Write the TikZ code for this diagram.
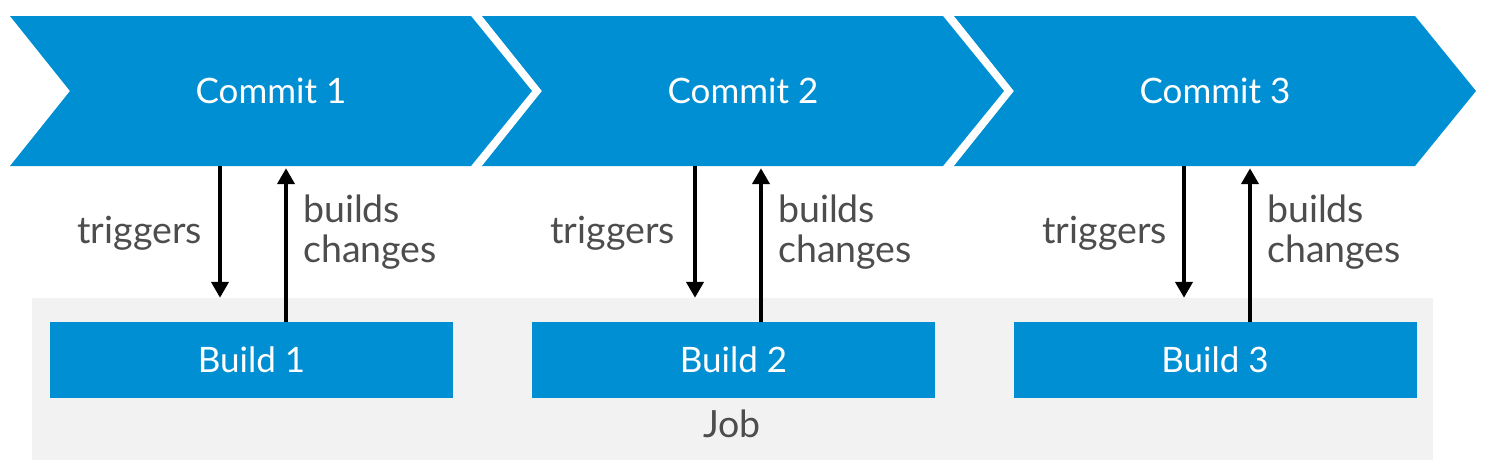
\documentclass[tikz,border=0pt]{standalone}
\usepackage{fontspec}
\setmainfont{Lato}
\usetikzlibrary{arrows.meta}
\definecolor{sapblue}{RGB}{0,143,211}
\definecolor{jobgray}{RGB}{242,242,242}
\definecolor{labelgray}{RGB}{77,77,77}
\begin{document}
\begin{tikzpicture}[x=1pt,y=-1pt,
  chevfill/.style={fill=sapblue},
  chevtext/.style={text=white,font=\fontsize{35}{40}\selectfont,minimum width=522pt,minimum height=150pt,inner sep=0pt},
  buildbox/.style={fill=sapblue,text=white,font=\fontsize{35}{40}\selectfont,minimum width=403pt,minimum height=76pt,inner sep=0pt},
  jobbox/.style={fill=jobgray,minimum width=1401pt,minimum height=162pt,inner sep=0pt},
  lbl/.style={text=labelgray,font=\fontsize{37.5}{40}\selectfont,inner sep=0pt},
  arr/.style={draw=black,line width=4pt,-{Triangle[width=17pt,length=16pt]}}
]
\useasboundingbox (0,0) rectangle (1489,472);
% job background
\node[jobbox] (job) at (732.5,379) {};
\node[lbl,anchor=base] (joblabel) at (732,437) {Job};
% chevrons
\foreach \k in {0,1,2}{
  \pgfmathsetmacro{\L}{10+472*\k}
  \fill[chevfill] (\L,16) -- (\L+461,16) -- (\L+522,91) -- (\L+461,166) -- (\L,166) -- (\L+60,91) -- cycle;
}
\node[chevtext] (c1) at (271,91) {Commit 1};
\node[chevtext] (c2) at (743,91) {Commit 2};
\node[chevtext] (c3) at (1215,91) {Commit 3};
% builds
\node[buildbox] (b1) at (251.5,360) {Build 1};
\node[buildbox] (b2) at (733.5,360) {Build 2};
\node[buildbox] (b3) at (1215,360) {Build 3};
% arrow x positions
\coordinate (t1) at (220,0);
\coordinate (u1) at (286,0);
\coordinate (t2) at (695,0);
\coordinate (u2) at (761,0);
\coordinate (t3) at (1184,0);
\coordinate (u3) at (1250,0);
\draw[arr] (c1.south -| t1) -- (job.north -| t1);
\draw[arr] (b1.north -| u1) -- ([yshift=-2pt]c1.south -| u1);
\draw[arr] (c2.south -| t2) -- (job.north -| t2);
\draw[arr] (b2.north -| u2) -- ([yshift=-2pt]c2.south -| u2);
\draw[arr] (c3.south -| t3) -- (job.north -| t3);
\draw[arr] (b3.north -| u3) -- ([yshift=-2pt]c3.south -| u3);
% labels
\node[lbl,anchor=base east] (l1) at (202,243) {triggers};
\node[lbl,anchor=base east] (l2) at (675,243) {triggers};
\node[lbl,anchor=base east] (l3) at (1167,243) {triggers};
\node[lbl,anchor=north west,align=left] (m1) at (303,195) {builds\\changes};
\node[lbl,anchor=north west,align=left] (m2) at (778,195) {builds\\changes};
\node[lbl,anchor=north west,align=left] (m3) at (1267,195) {builds\\changes};
\end{tikzpicture}
\end{document}
